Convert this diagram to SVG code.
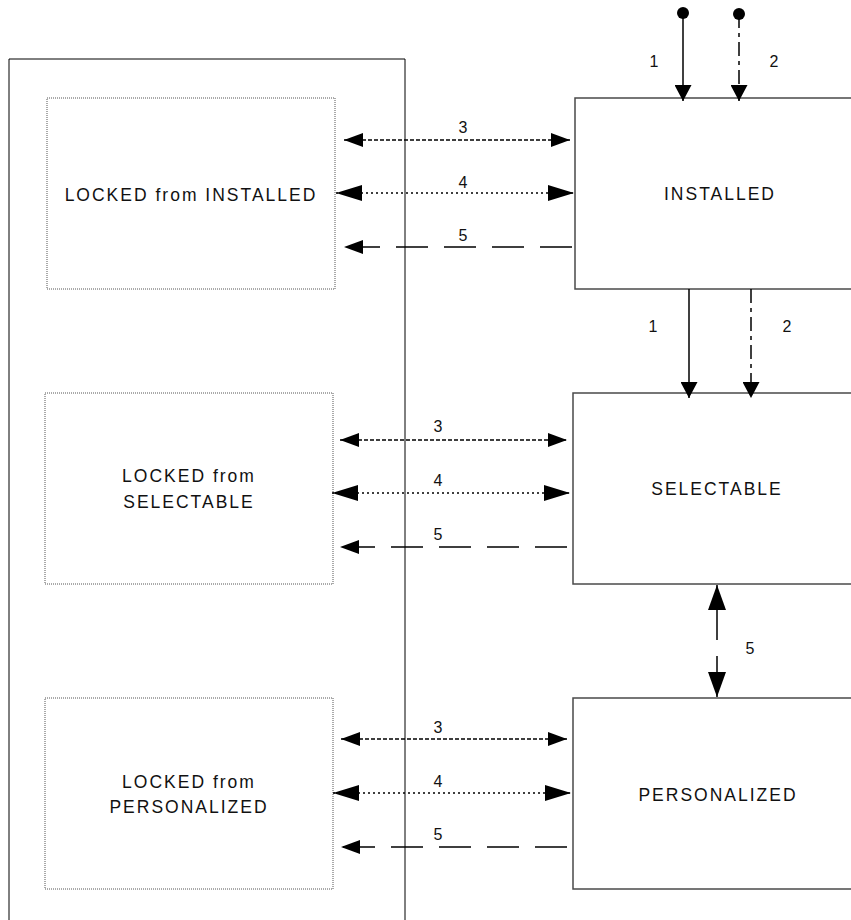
<svg xmlns="http://www.w3.org/2000/svg" width="851" height="920" viewBox="0 0 851 920">
<style>
.lbl{font-family:"Liberation Sans",Arial,sans-serif;font-size:17.5px;letter-spacing:2px;fill:#111;text-anchor:middle}
.num{font-family:"Liberation Sans",Arial,sans-serif;font-size:16px;fill:#111;text-anchor:middle}
.state{fill:#fff;stroke:#4a4a4a;stroke-width:1.5}
.locked{fill:#fff;stroke:#555;stroke-width:1;stroke-dasharray:1 1}
.ln{fill:none;stroke:#000;stroke-width:1.5}
.d3{stroke-dasharray:4 2}
.d4{stroke-dasharray:2 3}
.d5{stroke-dasharray:32 16}
.d2{stroke-dasharray:14 5 4 5}
</style>
<defs>
<marker id="mS" markerUnits="userSpaceOnUse" markerWidth="19" markerHeight="14" refX="19" refY="7" orient="auto-start-reverse"><path d="M0,0 L19,7 L0,14 z" fill="#000"/></marker>
<marker id="mL" markerUnits="userSpaceOnUse" markerWidth="26" markerHeight="16" refX="26" refY="8" orient="auto-start-reverse"><path d="M0,0 L26,8 L0,16 z" fill="#000"/></marker>
<marker id="mV" markerUnits="userSpaceOnUse" markerWidth="16" markerHeight="17" refX="16" refY="8.5" orient="auto-start-reverse"><path d="M0,0 L16,8.5 L0,17 z" fill="#000"/></marker>
<marker id="mB" markerUnits="userSpaceOnUse" markerWidth="25" markerHeight="18" refX="25" refY="9" orient="auto-start-reverse"><path d="M0,0 L25,9 L0,18 z" fill="#000"/></marker>
</defs>
<rect width="851" height="920" fill="#fff"/>
<g id="locked-container"><path d="M9,922 L9,59 L405,59 L405,922" fill="none" stroke="#000" stroke-width="1"/></g>
<g id="locked-installed"><rect class="locked" x="47" y="98" width="288" height="191"/><text class="lbl" x="191" y="201">LOCKED from INSTALLED</text></g>
<g id="locked-selectable"><rect class="locked" x="45" y="393" width="288" height="191"/><text class="lbl" x="189" y="482">LOCKED from</text><text class="lbl" x="189" y="508">SELECTABLE</text></g>
<g id="locked-personalized"><rect class="locked" x="45" y="698" width="288" height="191"/><text class="lbl" x="189" y="788">LOCKED from</text><text class="lbl" x="189" y="813">PERSONALIZED</text></g>
<g id="installed"><rect class="state" x="575" y="98" width="300" height="191"/><text class="lbl" x="720" y="200">INSTALLED</text></g>
<g id="selectable"><rect class="state" x="573" y="393" width="300" height="191"/><text class="lbl" x="717" y="495">SELECTABLE</text></g>
<g id="personalized"><rect class="state" x="573" y="698" width="300" height="191"/><text class="lbl" x="718" y="801">PERSONALIZED</text></g>
<g id="connectors">
<circle cx="683" cy="13" r="6" fill="#000"/>
<line class="ln" x1="683" y1="13" x2="683" y2="101" marker-end="url(#mV)"/>
<circle cx="739" cy="14" r="6" fill="#000"/>
<line class="ln d2" x1="739" y1="14" x2="739" y2="101" marker-end="url(#mV)"/>
<text class="num" x="654" y="67">1</text>
<text class="num" x="774" y="67">2</text>
<line class="ln" x1="689" y1="289" x2="689" y2="398" marker-end="url(#mV)"/>
<line class="ln d2" x1="751" y1="289" x2="751" y2="398" marker-end="url(#mV)"/>
<text class="num" x="653" y="332">1</text>
<text class="num" x="787" y="332">2</text>
<line class="ln" x1="717" y1="585" x2="717" y2="697" stroke-dasharray="55 16" marker-start="url(#mB)" marker-end="url(#mB)"/>
<text class="num" x="750" y="654">5</text>
<line class="ln d3" x1="344" y1="140" x2="570" y2="140" marker-start="url(#mS)" marker-end="url(#mS)"/>
<line class="ln d4" x1="336" y1="193" x2="574" y2="193" marker-start="url(#mL)" marker-end="url(#mL)"/>
<line class="ln d5" x1="572" y1="247" x2="344" y2="247" marker-end="url(#mS)"/>
<text class="num" x="463" y="133">3</text>
<text class="num" x="463" y="188">4</text>
<text class="num" x="463" y="241">5</text>
<line class="ln d3" x1="340" y1="440" x2="567" y2="440" marker-start="url(#mS)" marker-end="url(#mS)"/>
<line class="ln d4" x1="332" y1="493" x2="570" y2="493" marker-start="url(#mL)" marker-end="url(#mL)"/>
<line class="ln d5" x1="567" y1="547" x2="340" y2="547" marker-end="url(#mS)"/>
<text class="num" x="438" y="432">3</text>
<text class="num" x="438" y="486">4</text>
<text class="num" x="438" y="540">5</text>
<line class="ln d3" x1="341" y1="739" x2="567" y2="739" marker-start="url(#mS)" marker-end="url(#mS)"/>
<line class="ln d4" x1="333" y1="793" x2="571" y2="793" marker-start="url(#mL)" marker-end="url(#mL)"/>
<line class="ln d5" x1="567" y1="847" x2="341" y2="847" marker-end="url(#mS)"/>
<text class="num" x="438" y="733">3</text>
<text class="num" x="438" y="787">4</text>
<text class="num" x="438" y="840">5</text>
</g>
</svg>
